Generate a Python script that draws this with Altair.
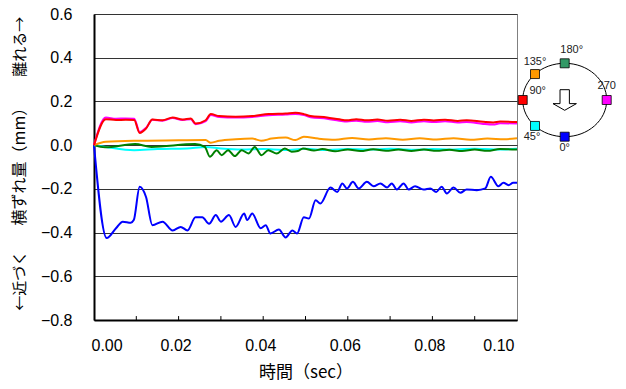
import altair as alt
import pandas as pd

# ---------------- data ----------------
T_BLUE = [0, 0.003, 0.0052, 0.0068, 0.0087, 0.0094, 0.0108, 0.0123, 0.0138, 0.0162,
          0.0186, 0.0205, 0.0221, 0.024, 0.0256, 0.0272, 0.0288, 0.03, 0.0319, 0.0335,
          0.0355, 0.0362, 0.0374, 0.0394, 0.0406, 0.0417, 0.0437, 0.0453, 0.0469, 0.048,
          0.0496, 0.0508, 0.0524, 0.0535, 0.0559, 0.0575, 0.0587, 0.0598, 0.0612, 0.0626,
          0.0645, 0.0661, 0.0677, 0.0693, 0.0704, 0.0716, 0.0732, 0.0744, 0.0759, 0.0779,
          0.0795, 0.0809, 0.0822, 0.0834, 0.085, 0.0866, 0.0881, 0.0905, 0.0925, 0.0938,
          0.0956, 0.0968, 0.098, 0.0991, 0.1]
V_BLUE = [0, -0.425, -0.38, -0.35, -0.355, -0.343, -0.19, -0.237, -0.366, -0.35,
          -0.39, -0.374, -0.39, -0.33, -0.33, -0.36, -0.32, -0.35, -0.32, -0.374,
          -0.313, -0.343, -0.313, -0.38, -0.366, -0.404, -0.386, -0.422, -0.39, -0.404,
          -0.33, -0.336, -0.252, -0.267, -0.194, -0.214, -0.175, -0.198, -0.168, -0.198,
          -0.168, -0.188, -0.175, -0.194, -0.175, -0.203, -0.175, -0.203, -0.188, -0.203,
          -0.198, -0.214, -0.19, -0.221, -0.194, -0.218, -0.203, -0.206, -0.198, -0.145,
          -0.188, -0.172, -0.183, -0.172, -0.172]

T_RED = [0, 0.0028, 0.0052, 0.0075, 0.0095, 0.0108, 0.0123, 0.0138, 0.0162, 0.0186,
         0.0209, 0.0229, 0.024, 0.0264, 0.0276, 0.0296, 0.0335, 0.0374, 0.0413, 0.0453,
         0.0476, 0.0496, 0.0512, 0.0551, 0.058, 0.0598, 0.062, 0.0645, 0.067, 0.0695,
         0.0724, 0.075, 0.078, 0.0803, 0.083, 0.086, 0.0881, 0.092, 0.0944, 0.096, 0.1]
V_RED = [0, 0.119, 0.115, 0.116, 0.115, 0.056, 0.076, 0.117, 0.114, 0.127,
         0.117, 0.122, 0.099, 0.114, 0.142, 0.133, 0.13, 0.133, 0.142, 0.145,
         0.148, 0.142, 0.133, 0.127, 0.118, 0.114, 0.119, 0.114, 0.117, 0.112,
         0.116, 0.111, 0.116, 0.113, 0.116, 0.111, 0.114, 0.107, 0.104, 0.108, 0.106]

T_MAGENTA = [0, 0.0028, 0.0052, 0.0075, 0.0095, 0.0108, 0.0123, 0.0138, 0.0162, 0.0186,
             0.0209, 0.0229, 0.024, 0.0264, 0.0276, 0.0296, 0.0335, 0.0374, 0.0413, 0.0453,
             0.0476, 0.0496, 0.0512, 0.0551, 0.058, 0.0598, 0.062, 0.0645, 0.067, 0.0695,
             0.0724, 0.075, 0.078, 0.0803, 0.083, 0.086, 0.0881, 0.092, 0.0944, 0.096, 0.1]
V_MAGENTA = [0, 0.126, 0.121, 0.122, 0.121, 0.06, 0.079, 0.116, 0.112, 0.124,
             0.115, 0.119, 0.096, 0.11, 0.138, 0.129, 0.126, 0.129, 0.137, 0.14,
             0.143, 0.138, 0.128, 0.121, 0.112, 0.108, 0.112, 0.107, 0.11, 0.105,
             0.109, 0.104, 0.109, 0.106, 0.109, 0.104, 0.106, 0.097, 0.094, 0.1, 0.099]

T_ORANGE = [0, 0.0028, 0.0095, 0.02, 0.0264, 0.0276, 0.0296, 0.0335, 0.0374, 0.0395,
            0.042, 0.0453, 0.0476, 0.0496, 0.053, 0.057, 0.061, 0.065, 0.069, 0.073,
            0.077, 0.081, 0.085, 0.089, 0.093, 0.097, 0.1]
V_ORANGE = [0, 0.015, 0.02, 0.022, 0.023, 0.011, 0.02, 0.027, 0.03, 0.02,
            0.03, 0.035, 0.023, 0.038, 0.03, 0.025, 0.033, 0.026, 0.032, 0.025,
            0.031, 0.026, 0.032, 0.025, 0.03, 0.027, 0.031]

T_CYAN = [0, 0.0028, 0.0095, 0.015, 0.022, 0.0264, 0.03, 0.035, 0.04, 0.045,
          0.05, 0.055, 0.06, 0.065, 0.07, 0.075, 0.08, 0.085, 0.09, 0.095, 0.1]
V_CYAN = [0, -0.008, -0.023, -0.018, -0.015, -0.008, -0.015, -0.02, -0.018, -0.022,
          -0.017, -0.022, -0.018, -0.02, -0.017, -0.021, -0.018, -0.02, -0.016, -0.02, -0.017]

T_GREEN = [0, 0.0026, 0.0097, 0.0136, 0.0239, 0.0262, 0.0274, 0.029, 0.0302, 0.0317,
           0.0333, 0.0349, 0.0365, 0.038, 0.0396, 0.0412, 0.0432, 0.0451, 0.0467, 0.0482,
           0.0494, 0.052, 0.054, 0.057, 0.06, 0.063, 0.066, 0.069, 0.072, 0.075,
           0.078, 0.081, 0.084, 0.087, 0.09, 0.093, 0.096, 0.1]
V_GREEN = [0, -0.01, 0.005, -0.008, 0.005, -0.008, -0.053, -0.023, -0.046, -0.023,
           -0.05, -0.023, -0.038, -0.008, -0.046, -0.023, -0.038, -0.015, -0.03, -0.027,
           -0.015, -0.025, -0.018, -0.028, -0.02, -0.027, -0.019, -0.026, -0.02, -0.027,
           -0.02, -0.026, -0.021, -0.027, -0.02, -0.026, -0.018, -0.02]

X_TICKS = [0.0, 0.02, 0.04, 0.06, 0.08, 0.10]
X_MINOR = [0.01, 0.02, 0.03, 0.04, 0.05, 0.06, 0.07, 0.08, 0.09]
Y_TICKS = [-0.8, -0.6, -0.4, -0.2, 0.0, 0.2, 0.4, 0.6]

Y_TITLE_TEXT = ["←近づく", "横ずれ量（mm）", "離れる→"]
Y_TITLE_AT = [-0.62, -0.08, 0.45]

ANGLES = [0, 45, 90, 135, 180, 270]
ANGLE_LABELS = ["0°", "45°", "90°", "135°", "180°", "270"]

# ---------------- styles ----------------
SERIES = [
    (T_BLUE, V_BLUE, "#0000FF"),
    (T_CYAN, V_CYAN, "#00FFFF"),
    (T_GREEN, V_GREEN, "#008000"),
    (T_ORANGE, V_ORANGE, "#FF9900"),
    (T_MAGENTA, V_MAGENTA, "#FF00FF"),
    (T_RED, V_RED, "#FF0000"),
]
SQUARE_COLORS = ["#0000FF", "#00FFFF", "#FF0000", "#FF9900", "#339966", "#FF00FF"]
LABEL_OFFSETS = {0: (0, 11), 45: (-3, 11), 90: (15, -9), 135: (0, -12), 180: (7, -13), 270: (0, -14)}
Y_TITLE_SIZES = [15, 16, 15]

JP_FONT = "Noto Sans CJK JP"
NUM_FONT = "Liberation Sans"

xs = alt.Scale(domain=[0, 0.1], nice=False, zero=False)
ys = alt.Scale(domain=[-0.8, 0.6], nice=False, zero=False)
xaxis = alt.Axis(values=X_TICKS, format=".2f", grid=False, ticks=False, tickSize=0,
                 labelPadding=17, labelOffset=-3, title="時間（sec）", titleFont=JP_FONT,
                 titleFontSize=17, titleFontWeight="normal", titleY=57,
                 titleBaseline="alphabetic", titleColor="#000000")
yaxis = alt.Axis(values=Y_TICKS, format=".1f", grid=True, ticks=False, tickSize=0,
                 labelPadding=22, title="")

layers = []
for t, v, c in SERIES:
    df = pd.DataFrame({"t": t, "v": v})
    layers.append(
        alt.Chart(df).mark_line(color=c, strokeWidth=2, interpolate="monotone").encode(
            x=alt.X("t:Q", scale=xs, axis=xaxis),
            y=alt.Y("v:Q", scale=ys, axis=yaxis),
        )
    )

# inward minor ticks on the x axis
tick_df = pd.DataFrame({"t": X_MINOR})
tick_df["v"] = -0.8
tick_df["v2"] = -0.782
layers.append(
    alt.Chart(tick_df).mark_rule(color="#000000", strokeWidth=1).encode(
        x=alt.X("t:Q", scale=xs, axis=xaxis),
        y=alt.Y("v:Q", scale=ys, axis=yaxis),
        y2="v2:Q",
    )
)

# y-axis title pieces
for txt, at, fs in zip(Y_TITLE_TEXT, Y_TITLE_AT, Y_TITLE_SIZES):
    tdf = pd.DataFrame({"v": [at], "label": [txt]})
    layers.append(
        alt.Chart(tdf).mark_text(angle=270, font=JP_FONT, fontSize=fs, color="#000000",
                                 align="center", baseline="middle").encode(
            x=alt.value(-74),
            y=alt.Y("v:Q", scale=ys, axis=yaxis),
            text="label:N",
        )
    )

main = alt.layer(*layers)

# ---------------- orientation diagram ----------------
dxs = alt.Scale(domain=[-1, 1], range=[428.7, 512.7], nice=False, zero=False)
dys = alt.Scale(domain=[-1, 1], range=[122.7, 49.3], nice=False, zero=False)

ELLIPSE_PATH = "M-1,0A1,0.874 0 1,0 1,0A1,0.874 0 1,0 -1,0Z"
ARROW_PATH = "M-0.4,-0.88L0.4,-0.88L0.4,0.31L1,0.31L0,0.88L-1,0.31L-0.4,0.31Z"

center = pd.DataFrame({"ux": [0.0], "uy": [0.0]})
ellipse = alt.Chart(center).mark_point(shape=ELLIPSE_PATH, size=7056, filled=False,
                                       color="#000000", strokeWidth=1, opacity=1).encode(
    x=alt.X("ux:Q", scale=dxs, axis=None), y=alt.Y("uy:Q", scale=dys, axis=None))
arrow = alt.Chart(center).mark_point(shape=ARROW_PATH, size=548, filled=True, fill="#FFFFFF",
                                     stroke="#000000", strokeWidth=1, opacity=1).encode(
    x=alt.X("ux:Q", scale=dxs, axis=None), y=alt.Y("uy:Q", scale=dys, axis=None))

ang_df = pd.DataFrame({"angle": ANGLES, "label": ANGLE_LABELS})
base = alt.Chart(ang_df).transform_calculate(
    ux="-sin(datum.angle*PI/180)", uy="-cos(datum.angle*PI/180)")
squares = base.mark_square(size=81, filled=True, stroke="#000000", strokeWidth=0.8,
                           opacity=1).encode(
    x=alt.X("ux:Q", scale=dxs, axis=None),
    y=alt.Y("uy:Q", scale=dys, axis=None),
    color=alt.Color("angle:N", scale=alt.Scale(domain=ANGLES, range=SQUARE_COLORS), legend=None),
)
dlayers = [ellipse, arrow, squares]
for a, lab in zip(ANGLES, ANGLE_LABELS):
    dx, dy = LABEL_OFFSETS[a]
    dlayers.append(
        base.transform_filter(f"datum.angle == {a}").mark_text(
            font=NUM_FONT, fontSize=11, color="#222222", dx=dx, dy=dy,
            align="center", baseline="middle").encode(
            x=alt.X("ux:Q", scale=dxs, axis=None),
            y=alt.Y("uy:Q", scale=dys, axis=None),
            text="label:N",
        )
    )
diagram = alt.layer(*dlayers)

chart = alt.layer(main, diagram).resolve_scale(
    x="independent", y="independent", color="independent"
).properties(
    width=423, height=306,
    autosize=alt.AutoSizeParams(type="none"),
    padding={"left": 86, "top": 6, "right": 100, "bottom": 61},
).configure_view(
    stroke="#808080", strokeWidth=1
).configure_axis(
    domainColor="#000000", domainWidth=2, labelFont=NUM_FONT, labelFontSize=16,
    labelColor="#000000", gridColor="#333333", gridWidth=1,
)

chart.save("out.html", embed_options={"renderer": "svg", "actions": False})
